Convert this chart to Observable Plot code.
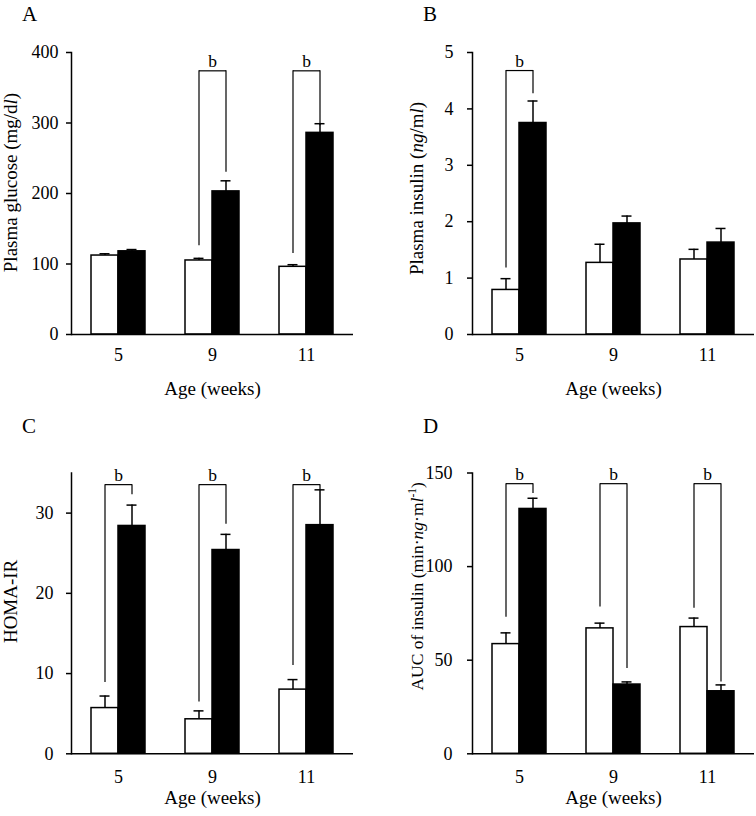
<!DOCTYPE html>
<html><head><meta charset="utf-8">
<script src="https://cdn.jsdelivr.net/npm/d3@7"></script>
<script src="https://cdn.jsdelivr.net/npm/@observablehq/plot@0.6"></script>
<style>
body{margin:0;background:#fff;}
#fig{position:relative;width:756px;height:816px;font-family:"Liberation Serif","Times New Roman",serif;color:#000;}
#fig svg text{font-family:"Liberation Serif","Times New Roman",serif;}
.panel{position:absolute;}
.letter{position:absolute;font-size:21px;line-height:1;}
</style></head><body><div id="fig"></div>
<script>
const FONT = '"Liberation Serif","Times New Roman",serif';
const weeks = ["5", "9", "11"];
const groups = ["Control", "Model"];
const groupFill = ["white", "black"];
const xTitle = "Age (weeks)";

// Panel A: plasma glucose
const glucoseControl = [112, 105, 96];
const glucoseControlErr = [2.5, 3, 3];
const glucoseModel = [118, 203, 286];
const glucoseModelErr = [2.5, 15, 13];
const glucoseDomain = [0, 400];
const glucoseTicks = [0, 100, 200, 300, 400];
const glucoseSigWeeks = ["9", "11"];
const glucoseSigTop = [374, 374];
const glucoseSigLow = [126, 115];
const glucoseSigHigh = [230, 296];

// Panel B: plasma insulin
const insulinControl = [0.79, 1.27, 1.33];
const insulinControlErr = [0.2, 0.33, 0.18];
const insulinModel = [3.75, 1.97, 1.63];
const insulinModelErr = [0.39, 0.13, 0.25];
const insulinDomain = [0, 5];
const insulinTicks = [0, 1, 2, 3, 4, 5];
const insulinSigWeeks = ["5"];
const insulinSigTop = [4.68];
const insulinSigLow = [1.18];
const insulinSigHigh = [4.27];

// Panel C: HOMA-IR
const homaControl = [5.7, 4.3, 8.0];
const homaControlErr = [1.5, 1.05, 1.25];
const homaModel = [28.4, 25.4, 28.5];
const homaModelErr = [2.6, 1.95, 4.4];
const homaDomain = [0, 35];
const homaTicks = [0, 10, 20, 30];
const homaSigWeeks = ["5", "9", "11"];
const homaSigTop = [33.55, 33.55, 33.55];
const homaSigLow = [8.9, 6.45, 11.0];
const homaSigHigh = [32.3, 28.6, 32.9];

// Panel D: AUC of insulin
const aucControl = [58.6, 67.0, 67.7];
const aucControlErr = [6.0, 2.8, 4.8];
const aucModel = [130.8, 37.0, 33.4];
const aucModelErr = [5.7, 1.4, 3.4];
const aucDomain = [0, 150];
const aucTicks = [0, 50, 100, 150];
const aucSigWeeks = ["5", "9", "11"];
const aucSigTop = [144.3, 144.3, 144.3];
const aucSigLow = [73, 78.4, 77.8];
const aucSigHigh = [139, 45.5, 38.4];

const panels = [
  {letter: "A", left: 0, top: 0, ml: 71, mr: 25, mt: 52, mb: 74, tp: 8, fxp: 14, ylx: -61, yly: -11, xly: 54, lfs: 19,
   label: "Plasma glucose (mg/dl)",
   parts: [["Plasma glucose (mg/d", ""], ["l", "i"], [")", ""]],
   control: glucoseControl, controlErr: glucoseControlErr, model: glucoseModel, modelErr: glucoseModelErr,
   domain: glucoseDomain, ticks: glucoseTicks, sigWeeks: glucoseSigWeeks, sigTop: glucoseSigTop, sigLow: glucoseSigLow, sigHigh: glucoseSigHigh},
  {letter: "B", left: 378, top: 0, ml: 94, mr: 2, mt: 52, mb: 74, tp: 14, fxp: 14, ylx: -56, yly: -5, xly: 54, lfs: 19,
   label: "Plasma insulin (ng/ml)",
   parts: [["Plasma insulin (", ""], ["ng", "i"], ["/m", ""], ["l", "i"], [")", ""]],
   control: insulinControl, controlErr: insulinControlErr, model: insulinModel, modelErr: insulinModelErr,
   domain: insulinDomain, ticks: insulinTicks, sigWeeks: insulinSigWeeks, sigTop: insulinSigTop, sigLow: insulinSigLow, sigHigh: insulinSigHigh},
  {letter: "C", left: 0, top: 408, ml: 71, mr: 25, mt: 64.5, mb: 62.7, tp: 13, fxp: 16, ylx: -61, yly: -12, xly: 44, lfs: 19,
   label: "HOMA-IR",
   parts: [["HOMA-IR", ""]],
   control: homaControl, controlErr: homaControlErr, model: homaModel, modelErr: homaModelErr,
   domain: homaDomain, ticks: homaTicks, sigWeeks: homaSigWeeks, sigTop: homaSigTop, sigLow: homaSigLow, sigHigh: homaSigHigh},
  {letter: "D", left: 378, top: 408, ml: 94, mr: 2, mt: 64.5, mb: 62.7, tp: 15, fxp: 16, ylx: -55, yly: -27, xly: 44, lfs: 17.5,
   label: "AUC of insulin (min·ng·ml-1)",
   parts: [["AUC of insulin (min·", ""], ["ng", "i"], ["·m", ""], ["l", "i"], ["-1", "sup"], [")", ""]],
   control: aucControl, controlErr: aucControlErr, model: aucModel, modelErr: aucModelErr,
   domain: aucDomain, ticks: aucTicks, sigWeeks: aucSigWeeks, sigTop: aucSigTop, sigLow: aucSigLow, sigHigh: aucSigHigh}
];

function styleLabel(svg, p) {
  svg.querySelectorAll("text").forEach(t => {
    if (t.textContent !== p.label) return;
    const target = t.querySelector("tspan") || t;
    while (target.firstChild) target.removeChild(target.firstChild);
    let shifted = false;
    p.parts.forEach(([s, st]) => {
      const ts = document.createElementNS("http://www.w3.org/2000/svg", "tspan");
      ts.textContent = s;
      if (st === "i") ts.setAttribute("font-style", "italic");
      if (st === "sup") { ts.setAttribute("font-size", "11.5"); ts.setAttribute("dy", "-7"); shifted = true; }
      else if (shifted) { ts.setAttribute("dy", "7"); shifted = false; }
      target.appendChild(ts);
    });
  });
}

const fig = document.getElementById("fig");
panels.forEach(p => {
  const rows = [];
  weeks.forEach((w, i) => {
    rows.push({week: w, group: groups[0], mean: p.control[i], err: p.controlErr[i]});
    rows.push({week: w, group: groups[1], mean: p.model[i], err: p.modelErr[i]});
  });
  const sig = p.sigWeeks.map((w, i) => ({week: w, top: p.sigTop[i], low: p.sigLow[i], high: p.sigHigh[i]}));
  const svg = Plot.plot({
    width: 378, height: 408,
    marginLeft: p.ml, marginRight: p.mr, marginTop: p.mt, marginBottom: p.mb,
    style: {fontFamily: FONT, fontSize: "18px", color: "black", background: "transparent", overflow: "visible"},
    fx: {domain: weeks, padding: 0},
    x: {domain: groups, paddingInner: 0, paddingOuter: 0.7, axis: null},
    y: {domain: p.domain},
    color: {domain: groups, range: groupFill},
    marks: [
      Plot.barY(rows, {fx: "week", x: "group", y: "mean", fill: "group", stroke: "black", strokeWidth: 1.5}),
      Plot.ruleX(rows, {fx: "week", x: "group", y1: "mean", y2: d => d.mean + d.err, strokeWidth: 1.5}),
      Plot.tickY(rows, {fx: "week", x: "group", y: d => d.mean + d.err, insetLeft: 8.5, insetRight: 8.5, strokeWidth: 1.5}),
      Plot.ruleX(sig, {fx: "week", x: () => groups[0], y1: "low", y2: "top", strokeWidth: 1.2}),
      Plot.ruleX(sig, {fx: "week", x: () => groups[1], y1: "high", y2: "top", strokeWidth: 1.2}),
      Plot.link(sig, {fx: "week", x1: () => groups[0], x2: () => groups[1], y1: "top", y2: "top", strokeWidth: 1.2}),
      Plot.text(sig, {fx: "week", y: "top", text: () => "b", lineAnchor: "bottom", dy: -4, fontSize: 17.5, fontFamily: FONT}),
      Plot.ruleY([0], {strokeWidth: 1.5}),
      Plot.frame({anchor: "left", facetAnchor: "left", strokeWidth: 1.5}),
      Plot.axisY({ticks: p.ticks, tickFormat: d => String(d), tickSize: 5, tickPadding: p.tp, strokeWidth: 1.5, label: null, fontSize: 18, fontFamily: FONT}),
      Plot.axisFx({anchor: "bottom", tickSize: 0, tickPadding: p.fxp, label: null, fontSize: 18, fontFamily: FONT}),
      Plot.text([p.label], {facet: "super", frameAnchor: "left", textAnchor: "middle", lineAnchor: "middle", rotate: -90, dx: p.ylx, dy: p.yly, fontSize: p.lfs, fontFamily: FONT, text: d => d}),
      Plot.text([xTitle], {facet: "super", frameAnchor: "bottom", textAnchor: "middle", lineAnchor: "middle", dy: p.xly, fontSize: 19, fontFamily: FONT, text: d => d})
    ]
  });
  styleLabel(svg, p);
  const wrap = document.createElement("div");
  wrap.className = "panel";
  wrap.style.left = p.left + "px";
  wrap.style.top = p.top + "px";
  wrap.appendChild(svg);
  fig.appendChild(wrap);
  const L = document.createElement("div");
  L.className = "letter";
  L.textContent = p.letter;
  L.style.left = (p.left + (p.left ? 45 : 22)) + "px";
  L.style.top = (p.top + (p.top ? 8 : 4)) + "px";
  fig.appendChild(L);
});
</script></body></html>
